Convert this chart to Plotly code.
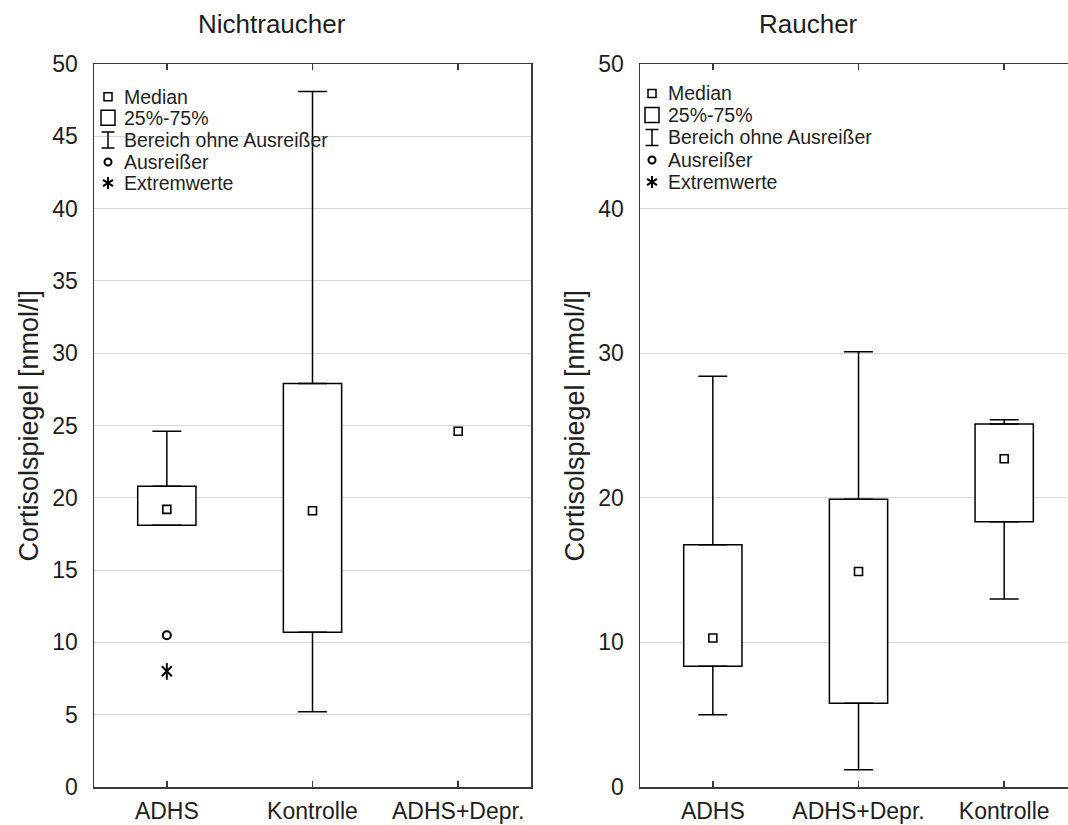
import plotly.graph_objects as go

# --- data -----------------------------------------------------------------
ns_groups = ["ADHS", "Kontrolle", "ADHS+Depr."]
ns_median = [19.2, 19.1, 24.6]
ns_q1 = [18.1, 10.7, None]
ns_q3 = [20.8, 27.9, None]
ns_low = [18.1, 5.2, None]
ns_high = [24.6, 48.1, None]
ns_outlier_groups = ["ADHS"]
ns_outliers = [10.5]
ns_extreme_groups = ["ADHS"]
ns_extremes = [8.0]

r_groups = ["ADHS", "ADHS+Depr.", "Kontrolle"]
r_median = [10.3, 14.9, 22.7]
r_q1 = [8.35, 5.8, 18.35]
r_q3 = [16.75, 19.9, 25.1]
r_low = [5.0, 1.2, 13.0]
r_high = [28.4, 30.1, 25.4]

legend_labels = ["Median", "25%-75%", "Bereich ohne Ausreißer", "Ausreißer", "Extremwerte"]
y_title = "Cortisolspiegel [nmol/l]"

# --- page geometry (pixels) -------------------------------------------------
W, H = 1068, 825
FONT = "Liberation Sans, Arial, sans-serif"
TXT = "#1e1e1e"
FRAME = "#3a3a3a"


def fx(p):
    return p / W


def fy(p):
    return 1 - p / H


PLOT_TOP, PLOT_BOT = 64, 787
left_dom = [fx(94), fx(531)]
right_dom = [fx(640), 1.0]
ydom = [fy(PLOT_BOT), fy(PLOT_TOP)]

fig = go.Figure()


def diff(a, b):
    return [None if (x is None or y is None) else x - y for x, y in zip(a, b)]


def add_panel(groups, med, q1, q3, low, high, xa, ya):
    # interquartile boxes
    fig.add_trace(go.Bar(
        x=groups, y=diff(q3, q1), base=q1, width=0.4,
        marker=dict(color="white", line=dict(color="black", width=1.5)),
        xaxis=xa, yaxis=ya, showlegend=False, hoverinfo="skip"))
    # upper whiskers
    fig.add_trace(go.Scatter(
        x=groups, y=q3, mode="markers",
        marker=dict(size=1, color="rgba(0,0,0,0)"),
        error_y=dict(type="data", symmetric=False, array=diff(high, q3),
                     arrayminus=[0 if v is not None else None for v in q3],
                     width=14.5, thickness=1.5, color="black"),
        xaxis=xa, yaxis=ya, showlegend=False, hoverinfo="skip"))
    # lower whiskers
    fig.add_trace(go.Scatter(
        x=groups, y=q1, mode="markers",
        marker=dict(size=1, color="rgba(0,0,0,0)"),
        error_y=dict(type="data", symmetric=False,
                     array=[0 if v is not None else None for v in q1],
                     arrayminus=diff(q1, low),
                     width=14.5, thickness=1.5, color="black"),
        xaxis=xa, yaxis=ya, showlegend=False, hoverinfo="skip"))
    # medians
    fig.add_trace(go.Scatter(
        x=groups, y=med, mode="markers",
        marker=dict(symbol="square-open", size=8, color="black", line=dict(width=1.6)),
        xaxis=xa, yaxis=ya, showlegend=False, hoverinfo="skip"))


add_panel(ns_groups, ns_median, ns_q1, ns_q3, ns_low, ns_high, "x", "y")
add_panel(r_groups, r_median, r_q1, r_q3, r_low, r_high, "x2", "y2")

# outliers and extreme values (non-smokers)
fig.add_trace(go.Scatter(
    x=ns_outlier_groups, y=ns_outliers, mode="markers",
    marker=dict(symbol="circle-open", size=8, color="black", line=dict(width=2)),
    xaxis="x", yaxis="y", showlegend=False, hoverinfo="skip"))
for sym, sz in [("line-ns-open", 12), ("x-thin-open", 10)]:
    fig.add_trace(go.Scatter(
        x=ns_extreme_groups, y=ns_extremes, mode="markers",
        marker=dict(symbol=sym, size=sz, color="black", line=dict(width=2)),
        xaxis="x", yaxis="y", showlegend=False, hoverinfo="skip"))

# --- axes -------------------------------------------------------------------
xcommon = dict(type="category", showline=True, linecolor=FRAME, linewidth=1.5,
               mirror="allticks", ticks="inside", ticklen=6, tickwidth=1.5,
               tickcolor=FRAME, showgrid=False, zeroline=False,
               tickfont=dict(family=FONT, size=23, color=TXT),
               ticklabelstandoff=3, automargin=False, fixedrange=True)
ycommon = dict(range=[0, 50], showgrid=True, gridcolor="#d6d6d6", gridwidth=1,
               showline=True, linecolor=FRAME, linewidth=1.5, ticks="",
               zeroline=False, tickfont=dict(family=FONT, size=23, color=TXT),
               ticklabelstandoff=10, automargin=False, fixedrange=True)

fig.update_layout(
    xaxis=dict(xcommon, domain=left_dom, anchor="y", categoryorder="array",
               categoryarray=ns_groups, range=[-0.5, 2.5]),
    yaxis=dict(ycommon, domain=ydom, anchor="x", dtick=5, mirror=True),
    xaxis2=dict(xcommon, domain=right_dom, anchor="y2", categoryorder="array",
                categoryarray=r_groups, range=[-0.5, 2.438]),
    yaxis2=dict(ycommon, domain=ydom, anchor="x2", dtick=10, mirror=False),
    width=W, height=H, margin=dict(l=0, r=0, t=0, b=0),
    plot_bgcolor="white", paper_bgcolor="white", barmode="overlay",
    showlegend=False,
)

annotations = []
shapes = []

# panel titles and y-axis titles
for text, cx in [("Nichtraucher", 272), ("Raucher", 808)]:
    annotations.append(dict(text=text, x=fx(cx), y=fy(24), xref="paper", yref="paper",
                            showarrow=False, xanchor="center", yanchor="middle",
                            font=dict(family=FONT, size=26, color=TXT)))
for cx in [28, 574]:
    annotations.append(dict(text=y_title, x=fx(cx), y=fy((PLOT_TOP + PLOT_BOT) / 2),
                            xref="paper", yref="paper", showarrow=False, textangle=-90,
                            xanchor="center", yanchor="middle",
                            font=dict(family=FONT, size=27, color=TXT)))


# key in the upper-left corner of each panel
def add_key(sx, tx, rows):
    for label, ry in zip(legend_labels, rows):
        annotations.append(dict(text=label, x=fx(tx), y=fy(ry), xref="paper", yref="paper",
                                showarrow=False, xanchor="left", yanchor="middle",
                                font=dict(family=FONT, size=19.5, color=TXT)))
    ln = dict(color="black", width=1.5)
    # median square
    r = rows[0]
    shapes.append(dict(type="rect", xref="paper", yref="paper",
                       x0=fx(sx - 4), x1=fx(sx + 4), y0=fy(r + 4), y1=fy(r - 4), line=ln))
    # box
    r = rows[1]
    shapes.append(dict(type="rect", xref="paper", yref="paper",
                       x0=fx(sx - 7), x1=fx(sx + 7), y0=fy(r + 7.5), y1=fy(r - 7.5), line=ln))
    # whisker range
    r = rows[2]
    shapes.append(dict(type="line", xref="paper", yref="paper",
                       x0=fx(sx), x1=fx(sx), y0=fy(r - 8), y1=fy(r + 8), line=ln))
    for dy in (-8, 8):
        shapes.append(dict(type="line", xref="paper", yref="paper",
                           x0=fx(sx - 6.5), x1=fx(sx + 6.5), y0=fy(r + dy), y1=fy(r + dy), line=ln))
    # outlier circle
    r = rows[3]
    shapes.append(dict(type="circle", xref="paper", yref="paper",
                       x0=fx(sx - 3.5), x1=fx(sx + 3.5), y0=fy(r + 3.5), y1=fy(r - 3.5),
                       line=dict(color="black", width=2)))
    # extreme asterisk
    r = rows[4]
    ln2 = dict(color="black", width=2)
    shapes.append(dict(type="line", xref="paper", yref="paper",
                       x0=fx(sx), x1=fx(sx), y0=fy(r - 6), y1=fy(r + 6), line=ln2))
    for s in (-1, 1):
        shapes.append(dict(type="line", xref="paper", yref="paper",
                           x0=fx(sx - 5), x1=fx(sx + 5), y0=fy(r + 3.2 * s), y1=fy(r - 3.2 * s),
                           line=ln2))


add_key(108, 122, [96.7, 117.7, 140, 162, 183])
add_key(652, 666, [93.5, 115, 137.5, 160, 182])

fig.update_layout(annotations=annotations, shapes=shapes)

fig.write_html("out.html", config=dict(displayModeBar=False, staticPlot=True))
